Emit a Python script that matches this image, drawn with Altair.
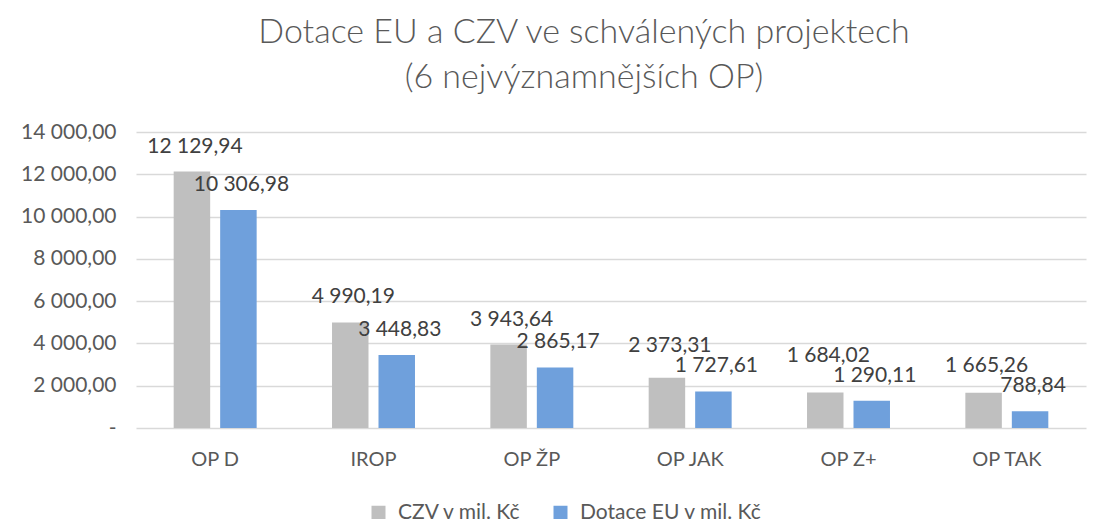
import altair as alt
import pandas as pd

categories = ["OP D", "IROP", "OP ŽP", "OP JAK", "OP Z+", "OP TAK"]
czv = [12129.94, 4990.19, 3943.64, 2373.31, 1684.02, 1665.26]
dotace = [10306.98, 3448.83, 2865.17, 1727.61, 1290.11, 788.84]
series = ["CZV v mil. Kč", "Dotace EU v mil. Kč"]
colors = ["#BFBFBF", "#6FA0DC"]

Y_MAX = 14000
PLOT_H = 296
PX = Y_MAX / PLOT_H  # data units per pixel
LABEL_GAP_PX = 20    # keep grey label above the blue one (Excel-style collision avoidance)

rows = []
for c, a, b in zip(categories, czv, dotace):
    rows.append({"kat": c, "serie": series[0], "hodnota": a,
                 "kotva": max(a, b + LABEL_GAP_PX * PX)})
    rows.append({"kat": c, "serie": series[1], "hodnota": b, "kotva": b})
df = pd.DataFrame(rows)

FONT = "Lato"
GREY = "#595959"

x = alt.X("kat:N", sort=categories, title=None,
          scale=alt.Scale(paddingInner=0.476, paddingOuter=0.238),
          axis=alt.Axis(labelAngle=0, labelFont=FONT, labelFontSize=20, labelColor=GREY,
                        labelPadding=21, ticks=False, domain=False))
xoff = alt.XOffset("serie:N", sort=series, scale=alt.Scale(paddingInner=0.215))
yscale = alt.Scale(domain=[0, Y_MAX], nice=False)
y = alt.Y("hodnota:Q", title=None, scale=yscale,
          axis=alt.Axis(values=list(range(0, Y_MAX + 1, 2000)), format=",.2f",
                        labelExpr="datum.value == 0 ? '-' : datum.label",
                        labelFont=FONT, labelFontSize=21, labelColor=GREY, labelPadding=20,
                        ticks=False, domain=False, gridColor="#D9D9D9", gridWidth=1.3))

base = alt.Chart(df).encode(x=x, xOffset=xoff)

bars = base.mark_bar().encode(
    y=y,
    color=alt.Color("serie:N", sort=series, title=None,
                    scale=alt.Scale(domain=series, range=colors),
                    legend=alt.Legend(orient="none", direction="horizontal",
                                      legendX=232, legendY=370,
                                      symbolType="square", symbolSize=196,
                                      symbolStrokeWidth=0, labelLimit=0,
                                      labelOffset=9,
                                      labelFont=FONT, labelFontSize=21, labelColor=GREY,
                                      columnPadding=28)),
)

labels = base.mark_text(baseline="middle", dy=-25, dx=3, font=FONT, fontSize=21,
                        color="#404040").encode(
    y=alt.Y("kotva:Q", scale=yscale),
    text=alt.Text("hodnota:Q", format=",.2f"),
)

chart = (bars + labels).properties(
    width=950, height=PLOT_H,
    background="white",
    title=alt.TitleParams(
        text=["Dotace EU a CZV ve schválených projektech", "(6 nejvýznamnějších OP)"],
        font=FONT, fontSize=34, fontWeight=300, color=GREY, lineHeight=45,
        anchor="middle", offset=26, dx=-27),
    padding={"left": 12, "top": 8, "right": 3, "bottom": 0},
).configure_view(stroke=None)

chart.save("out.html", embed_options={
    "renderer": "svg", "actions": False,
    "formatLocale": {"decimal": ",", "thousands": "\u00a0", "grouping": [3],
                     "currency": ["", " Kč"]},
})
